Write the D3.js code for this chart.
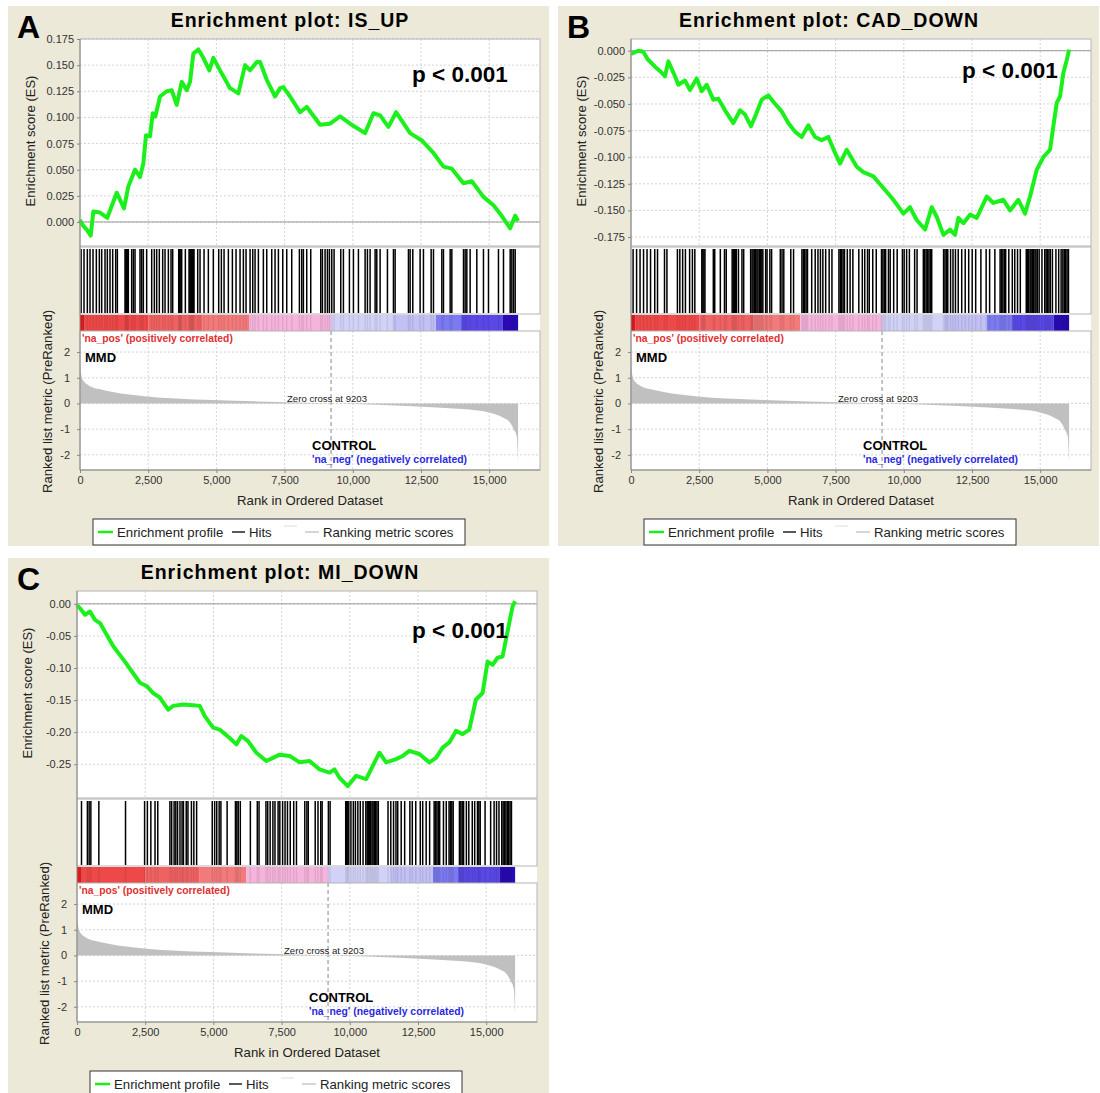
<!DOCTYPE html>
<html lang="en">
<head>
<meta charset="UTF-8">
<title>Enrichment plots</title>
<script src="https://d3js.org/d3.v7.min.js"></script>
<style>
  body { margin: 0; background: #fff; }
  svg text { font-family: Arial, "Liberation Sans", sans-serif; }
</style>
</head>
<body>
<div class="chart"></div>
<script>
// ---- shared data ----
const rankTicks = [0, 2500, 5000, 7500, 10000, 12500, 15000];
const metricTicks = [-2, -1, 0, 1, 2];
const nGenes = 16060;
const zeroCross = 9203;

// ranked list metric (same ordered dataset in all panels)
const metricRanks  = [0, 50, 150, 350, 733, 1200, 1800, 2444, 3500, 4888, 6500, 8000, 9203, 10634, 12000, 13078, 14000, 15000, 15500, 15768, 15900, 16012, 16040, 16060];
const metricValues = [1.55, 1.1, 0.85, 0.68, 0.55, 0.45, 0.35, 0.27, 0.19, 0.13, 0.08, 0.04, 0, -0.04, -0.1, -0.16, -0.22, -0.35, -0.55, -0.75, -1.0, -1.3, -1.8, -2.3];

// colour bar below the hits
const colorBreaks = [0, 150, 2500, 4500, 6200, 9203, 11480, 13050, 13970, 15500, 16060];
const colorFills  = ["#dc1c1c", "#ee4848", "#f06262", "#f37a7a", "#f6b4dc", "#d2d2f8", "#c2c0f4", "#7c7af0", "#5a48e6", "#2a0ab8"];

// ---- IS_UP ----
const isUpRanks = [0, 99, 268, 392, 488, 733, 1001, 1100, 1346, 1613, 1771, 2017, 2200, 2321, 2420, 2567, 2666, 2761, 2934, 3179, 3363, 3546, 3729, 3913, 4034, 4155, 4338, 4521, 4741, 4888, 5134, 5500, 5805, 6051, 6234, 6480, 6600, 6846, 7150, 7334, 7455, 7700, 8067, 8313, 8800, 9167, 9534, 9900, 10450, 10756, 11001, 11306, 11587, 12100, 12530, 12955, 13322, 13630, 14056, 14364, 14789, 15156, 15401, 15768, 15951, 16060];
const isUpES = [0.002, -0.003, -0.008, -0.013, 0.010, 0.009, 0.004, 0.011, 0.028, 0.013, 0.034, 0.050, 0.043, 0.056, 0.083, 0.082, 0.104, 0.101, 0.120, 0.125, 0.126, 0.112, 0.134, 0.126, 0.134, 0.161, 0.165, 0.157, 0.145, 0.157, 0.145, 0.128, 0.123, 0.150, 0.145, 0.153, 0.153, 0.136, 0.120, 0.128, 0.129, 0.120, 0.105, 0.110, 0.093, 0.094, 0.101, 0.094, 0.085, 0.104, 0.102, 0.091, 0.105, 0.085, 0.078, 0.066, 0.053, 0.051, 0.037, 0.039, 0.024, 0.016, 0.008, -0.006, 0.006, 0.001];
const isUpHits = [40, 147, 269, 367, 477, 599, 709, 795, 917, 1002, 1100, 1198, 1308, 1369, 1650, 1680, 1711, 1740, 1772, 1894, 1956, 2017, 2200, 2261, 2322, 2444, 2628, 2725, 2811, 2908, 3031, 3117, 3239, 3337, 3398, 3618, 3640, 3667, 3700, 3728, 3862, 3997, 4030, 4058, 4090, 4119, 4150, 4180, 4315, 4400, 4547, 4705, 4888, 5084, 5182, 5281, 5439, 5586, 5720, 5867, 5989, 6087, 6234, 6332, 6417, 6539, 6722, 6845, 7028, 7150, 7273, 7432, 7578, 7761, 8043, 8128, 8189, 8311, 8458, 8825, 8886, 8984, 9070, 9143, 9229, 9314, 9559, 9656, 9876, 10023, 10206, 10451, 10536, 10634, 10818, 10879, 11001, 11270, 11490, 11551, 12040, 12101, 12199, 12468, 12590, 12872, 12957, 13263, 13324, 13569, 13630, 14058, 14118, 14180, 14301, 14546, 14790, 14974, 15340, 15524, 15769, 15830, 15891, 15952];
const isUpTicks = [0, 0.025, 0.05, 0.075, 0.1, 0.125, 0.15, 0.175];

// ---- CAD_DOWN ----
const cadRanks = [0, 48, 268, 451, 611, 880, 1100, 1246, 1369, 1613, 1735, 1980, 2163, 2408, 2591, 2775, 3018, 3201, 3446, 3751, 3996, 4180, 4400, 4546, 4791, 5035, 5218, 5523, 5767, 6012, 6257, 6501, 6745, 6990, 7234, 7480, 7662, 7907, 8274, 8518, 8884, 9251, 9617, 9984, 10228, 10473, 10778, 11023, 11206, 11451, 11695, 11878, 12000, 12183, 12428, 12673, 13040, 13284, 13650, 13895, 14199, 14444, 14627, 14872, 15116, 15361, 15482, 15606, 15727, 15848, 15972, 16060];
const cadES = [-0.002, -0.0025, 0.000, -0.001, -0.008, -0.015, -0.020, -0.024, -0.010, -0.024, -0.032, -0.028, -0.037, -0.026, -0.038, -0.032, -0.046, -0.045, -0.056, -0.068, -0.056, -0.060, -0.071, -0.062, -0.046, -0.042, -0.048, -0.057, -0.068, -0.076, -0.081, -0.070, -0.081, -0.084, -0.081, -0.096, -0.106, -0.093, -0.109, -0.114, -0.118, -0.129, -0.140, -0.153, -0.147, -0.159, -0.168, -0.147, -0.156, -0.173, -0.168, -0.173, -0.157, -0.162, -0.154, -0.157, -0.137, -0.143, -0.140, -0.150, -0.140, -0.153, -0.137, -0.112, -0.100, -0.093, -0.071, -0.049, -0.043, -0.021, -0.009, 0.001];
const cadHits = [77, 205, 332, 460, 588, 716, 870, 972, 1228, 1317, 1701, 1790, 1893, 1995, 2148, 2251, 2340, 2596, 2634, 2673, 2711, 3018, 3069, 3274, 3427, 3491, 3708, 3747, 3785, 3824, 3862, 3939, 4067, 4131, 4386, 4437, 4476, 4527, 4565, 4616, 4655, 4706, 4744, 4795, 4834, 4936, 4987, 5090, 5154, 5473, 5537, 5601, 5857, 5959, 6266, 6317, 6368, 6419, 6470, 6624, 6752, 6854, 6944, 7033, 7136, 7264, 7366, 7622, 7673, 7724, 7775, 7826, 7929, 8031, 8133, 8351, 8479, 8568, 8670, 8734, 8862, 8990, 9182, 9233, 9284, 9335, 9437, 9501, 9629, 9757, 9949, 10013, 10103, 10205, 10397, 10486, 10716, 10767, 10819, 10870, 10921, 10972, 11023, 11458, 11509, 11560, 11611, 11714, 11803, 11893, 11995, 12123, 12251, 12379, 12507, 12635, 12826, 13018, 13146, 13338, 13530, 13581, 13632, 13683, 13734, 13849, 13977, 14067, 14169, 14271, 14489, 14540, 14578, 14630, 14668, 14719, 14757, 14808, 14847, 14898, 14962, 15064, 15167, 15218, 15269, 15320, 15371, 15448, 15576, 15678, 15767, 15831, 15882, 15934, 15985, 16036];
const cadTicks = [0, -0.025, -0.05, -0.075, -0.1, -0.125, -0.15, -0.175];

// ---- MI_DOWN ----
const miRanks = [0, 110, 293, 476, 659, 842, 1330, 1756, 2305, 2549, 2793, 3037, 3341, 3524, 3890, 4256, 4500, 4684, 4988, 5232, 5598, 5842, 6026, 6269, 6575, 6940, 7184, 7428, 7794, 8160, 8525, 8891, 9257, 9440, 9623, 9928, 10233, 10599, 11086, 11330, 11696, 11940, 12184, 12550, 12916, 13160, 13404, 13648, 13892, 14136, 14380, 14624, 14868, 15051, 15234, 15417, 15600, 15722, 15844, 15966, 16060];
const miES = [-0.002, -0.007, -0.017, -0.012, -0.025, -0.030, -0.066, -0.090, -0.123, -0.128, -0.139, -0.146, -0.165, -0.159, -0.157, -0.158, -0.159, -0.175, -0.193, -0.196, -0.209, -0.219, -0.206, -0.214, -0.232, -0.245, -0.240, -0.235, -0.237, -0.247, -0.245, -0.258, -0.263, -0.258, -0.271, -0.284, -0.268, -0.273, -0.232, -0.247, -0.242, -0.237, -0.229, -0.234, -0.247, -0.240, -0.224, -0.216, -0.198, -0.203, -0.196, -0.149, -0.139, -0.090, -0.095, -0.084, -0.082, -0.056, -0.030, -0.004, 0.004];
const miHits = [165, 381, 445, 508, 801, 1779, 2478, 2580, 2707, 2860, 2961, 3406, 3470, 3559, 3622, 3686, 3775, 3851, 3902, 4004, 4067, 4194, 4283, 4385, 4957, 5046, 5122, 5211, 5275, 5503, 5808, 5859, 5910, 5986, 6355, 6609, 6673, 6927, 6991, 7080, 7181, 7257, 7372, 7435, 7537, 7626, 7715, 7817, 7944, 8045, 8350, 8427, 8478, 8732, 8834, 8935, 8986, 9215, 9278, 9850, 9888, 9926, 9964, 10041, 10130, 10206, 10295, 10384, 10486, 10587, 10638, 10676, 10727, 10765, 10816, 10854, 10905, 10943, 10994, 11045, 11401, 11503, 11604, 11693, 11757, 11884, 12011, 12202, 12291, 12418, 12583, 12672, 12799, 12926, 13091, 13142, 13193, 13244, 13295, 13434, 13536, 13638, 13689, 13740, 13790, 14019, 14070, 14121, 14171, 14273, 14362, 14489, 14578, 14680, 14730, 14781, 14959, 15163, 15290, 15379, 15468, 15570, 15621, 15672, 15722, 15773, 15824, 15875, 15926];
const miTicks = [0, -0.05, -0.1, -0.15, -0.2, -0.25];

// ---- layout ----
const W = 1100, H = 1093;
const plotW = 460;
const esH = 206;                 // ES plot height
const hitsTop = 209, hitsBot = 275;
const barTop = 276, barBot = 292;
const rlTop = 292, rlBot = 431;  // ranked list plot

const loc = d3.formatLocale({decimal: ".", thousands: ",", grouping: [3], currency: ["", ""], minus: "-"});

const panels = [
  {letter: "A", title: "Enrichment plot: IS_UP", bg: [8, 6, 541, 540], x0: 80, y0: 39,
   ranks: isUpRanks, es: isUpES, hits: isUpHits, esDomain: [-0.022, 0.175], ticks: isUpTicks, fmt: ".3f",
   pX: 332, pY: 41, titleX: 210},
  {letter: "B", title: "Enrichment plot: CAD_DOWN", bg: [558, 6, 541, 540], x0: 631, y0: 39,
   ranks: cadRanks, es: cadES, hits: cadHits, esDomain: [-0.1825, 0.011], ticks: cadTicks, fmt: ".3f",
   pX: 331, pY: 37, titleX: 198},
  {letter: "C", title: "Enrichment plot: MI_DOWN", bg: [8, 558, 541, 535], x0: 77, y0: 591,
   ranks: miRanks, es: miES, hits: miHits, esDomain: [-0.301, 0.020], ticks: miTicks, fmt: ".2f",
   pX: 335, pY: 45, titleX: 203}
];

const svg = d3.select(".chart").append("svg")
  .attr("width", W).attr("height", H);

const x = d3.scaleLinear().domain([0, 15000]).range([0, 409.2]);
const yRank = d3.scaleLinear().domain([-2.59, 2.82]).range([rlBot, rlTop]);

function drawPanel(p) {
  // beige window background
  svg.append("rect")
    .attr("x", p.bg[0]).attr("y", p.bg[1])
    .attr("width", p.bg[2]).attr("height", p.bg[3])
    .attr("fill", "#ece9d8");

  const g = svg.append("g").attr("transform", `translate(${p.x0},${p.y0})`);
  const y = d3.scaleLinear().domain(p.esDomain).range([esH, 0]);

  // title + letter
  g.append("text").attr("x", p.titleX).attr("y", -12)
    .attr("text-anchor", "middle").attr("font-size", 19.5).attr("font-weight", "bold")
    .attr("letter-spacing", 1)
    .text(p.title);
  svg.append("text").attr("x", p.bg[0] + 9).attr("y", p.bg[1] + 32)
    .attr("font-size", 32).attr("font-weight", "bold").text(p.letter);

  // white plot backgrounds
  g.append("rect").attr("width", plotW).attr("height", rlBot).attr("fill", "#fff");

  // ES grid
  const grid = g.append("g").attr("stroke", "#d4d4d4").attr("stroke-dasharray", "2,2");
  grid.selectAll(".vx").data(rankTicks.slice(1)).join("line")
    .attr("x1", d => x(d)).attr("x2", d => x(d)).attr("y1", 0).attr("y2", esH);
  grid.selectAll(".hy").data(p.ticks).join("line")
    .attr("x1", 0).attr("x2", plotW).attr("y1", d => y(d)).attr("y2", d => y(d));
  // ranked list grid
  grid.selectAll(".vr").data(rankTicks.slice(1)).join("line")
    .attr("x1", d => x(d)).attr("x2", d => x(d)).attr("y1", rlTop).attr("y2", rlBot);
  grid.selectAll(".hr").data(metricTicks).join("line")
    .attr("x1", 0).attr("x2", plotW).attr("y1", d => yRank(d)).attr("y2", d => yRank(d));

  // zero line of ES
  g.append("line").attr("x1", 0).attr("x2", plotW).attr("y1", y(0)).attr("y2", y(0))
    .attr("stroke", "#999");

  // hits
  g.append("g").selectAll("line").data(p.hits).join("line")
    .attr("x1", d => x(d)).attr("x2", d => x(d))
    .attr("y1", hitsTop + 1).attr("y2", hitsBot - 1)
    .attr("stroke", "#000").attr("stroke-width", 1.5);

  // colour bar
  g.append("g").selectAll("rect").data(colorFills).join("rect")
    .attr("x", (d, i) => x(colorBreaks[i]))
    .attr("width", (d, i) => x(colorBreaks[i + 1]) - x(colorBreaks[i]))
    .attr("y", barTop).attr("height", barBot - barTop)
    .attr("fill", d => d);
  g.append("g").selectAll("line").data(p.hits).join("line")
    .attr("x1", d => x(d)).attr("x2", d => x(d))
    .attr("y1", barTop).attr("y2", barBot)
    .attr("stroke", "#000").attr("stroke-opacity", 0.08).attr("stroke-width", 1.5);

  // ranked list metric
  const area = d3.area()
    .x((d, i) => x(metricRanks[i]))
    .y0(yRank(0))
    .y1(d => yRank(d))
    .curve(d3.curveMonotoneX);
  g.append("path").datum(metricValues).attr("d", area).attr("fill", "#c0c0c0");

  // zero cross marker
  g.append("line").attr("x1", x(zeroCross)).attr("x2", x(zeroCross))
    .attr("y1", barBot).attr("y2", rlBot)
    .attr("stroke", "#888").attr("stroke-dasharray", "4,3");

  // enrichment profile
  const line = d3.line()
    .x((d, i) => x(p.ranks[i]))
    .y(d => y(d));
  g.append("path").datum(p.es).attr("d", line)
    .attr("fill", "none").attr("stroke", "#1cf01c").attr("stroke-width", 4)
    .attr("stroke-linejoin", "round");

  // frames
  const frame = g.append("g").attr("fill", "none").attr("stroke", "#b4b4b4");
  frame.append("rect").attr("x", 0).attr("y", 0).attr("width", plotW).attr("height", esH + 1);
  frame.append("rect").attr("x", 0).attr("y", hitsTop - 1).attr("width", plotW).attr("height", hitsBot - hitsTop + 1);
  frame.append("rect").attr("x", 0).attr("y", barBot).attr("width", plotW).attr("height", rlBot - barBot);
  g.append("line").attr("x1", 0).attr("x2", 0).attr("y1", 0).attr("y2", rlBot).attr("stroke", "#888");
  g.append("line").attr("x1", 0).attr("x2", plotW).attr("y1", rlBot).attr("y2", rlBot).attr("stroke", "#888");

  // axes
  const yAxis = g.append("g")
    .call(d3.axisLeft(y).tickValues(p.ticks).tickFormat(loc.format(p.fmt)).tickSize(3));
  const rAxis = g.append("g")
    .call(d3.axisLeft(yRank).tickValues(metricTicks).tickFormat(loc.format("d")).tickSize(3));
  const xAxis = g.append("g").attr("transform", `translate(0,${rlBot})`)
    .call(d3.axisBottom(x).tickValues(rankTicks).tickFormat(loc.format(",d")).tickSize(3));
  [yAxis, rAxis, xAxis].forEach(a => {
    a.select(".domain").remove();
    a.selectAll(".tick line").attr("stroke", "#888");
    a.selectAll("text").attr("font-size", 11).attr("fill", "#333").attr("font-family", "Arial, 'Liberation Sans', sans-serif");
  });
  rAxis.selectAll("text").attr("dx", -4);

  // axis titles
  g.append("text").attr("transform", `translate(-45,${esH / 2 - 1}) rotate(-90)`)
    .attr("text-anchor", "middle").attr("font-size", 13).attr("fill", "#222")
    .text("Enrichment score (ES)");
  g.append("text").attr("transform", `translate(-28,${(barTop + rlBot) / 2 + 9}) rotate(-90)`)
    .attr("text-anchor", "middle").attr("font-size", 13.2).attr("fill", "#222")
    .text("Ranked list metric (PreRanked)");
  g.append("text").attr("x", 230).attr("y", rlBot + 35)
    .attr("text-anchor", "middle").attr("font-size", 13.2).attr("fill", "#222")
    .text("Rank in Ordered Dataset");

  // annotations
  g.append("text").attr("x", p.pX).attr("y", p.pY + 2)
    .attr("font-size", 22.5).attr("font-weight", "bold").text("p < 0.001");
  g.append("text").attr("x", 2).attr("y", barBot + 11)
    .attr("font-size", 10.3).attr("font-weight", "bold").attr("fill", "#e03030")
    .text("'na_pos' (positively correlated)");
  g.append("text").attr("x", 5).attr("y", barBot + 31)
    .attr("font-size", 13).attr("font-weight", "bold").text("MMD");
  g.append("text").attr("x", 207).attr("y", yRank(0) - 1)
    .attr("font-size", 9.6).attr("fill", "#222").text("Zero cross at " + zeroCross);
  g.append("text").attr("x", 232).attr("y", yRank(-1.82))
    .attr("font-size", 13).attr("font-weight", "bold").text("CONTROL");
  g.append("text").attr("x", 232).attr("y", yRank(-2.33))
    .attr("font-size", 10.4).attr("font-weight", "bold").attr("fill", "#2a2ae0")
    .text("'na_neg' (negatively correlated)");

  // legend
  const lg = g.append("g").attr("transform", `translate(13,${rlBot + 49})`);
  lg.append("rect").attr("width", 372).attr("height", 26)
    .attr("fill", "#fff").attr("stroke", "#333");
  lg.append("line").attr("x1", 5).attr("x2", 20).attr("y1", 13).attr("y2", 13)
    .attr("stroke", "#1cf01c").attr("stroke-width", 2.5);
  lg.append("text").attr("x", 24).attr("y", 18).attr("font-size", 13.2).attr("fill", "#222").text("Enrichment profile");
  lg.append("line").attr("x1", 139).attr("x2", 152).attr("y1", 13).attr("y2", 13)
    .attr("stroke", "#222").attr("stroke-width", 1.5);
  lg.append("text").attr("x", 156).attr("y", 18).attr("font-size", 13.2).attr("fill", "#222").text("Hits");
  lg.append("line").attr("x1", 191).attr("x2", 204).attr("y1", 7).attr("y2", 7)
    .attr("stroke", "#ddd").attr("stroke-width", 1);
  lg.append("line").attr("x1", 212).attr("x2", 226).attr("y1", 13).attr("y2", 13)
    .attr("stroke", "#c8c8c8").attr("stroke-width", 1.5);
  lg.append("text").attr("x", 230).attr("y", 18).attr("font-size", 13.2).attr("fill", "#222").text("Ranking metric scores");
}

panels.forEach(drawPanel);
</script>
</body>
</html>
